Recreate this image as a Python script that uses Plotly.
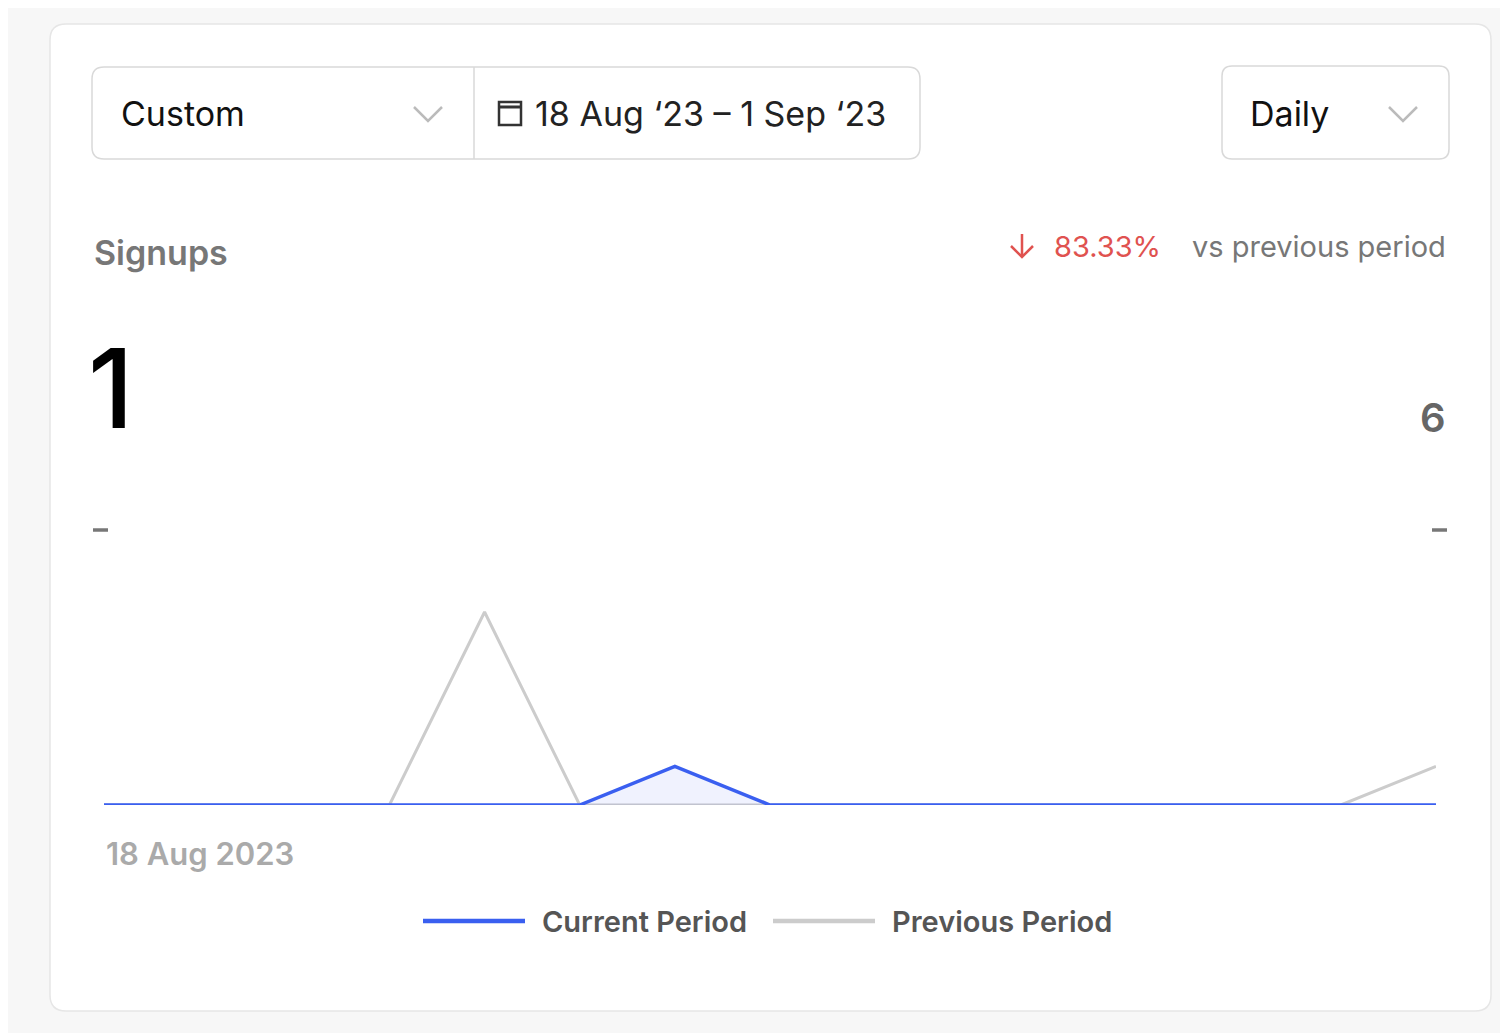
import plotly.graph_objects as go
import pandas as pd

days = pd.date_range("2023-08-18", "2023-09-01", freq="D")
current = [0, 0, 0, 0, 0, 0, 1, 0, 0, 0, 0, 0, 0, 0, 0]
previous = [0, 0, 0, 0, 5, 0, 0, 0, 0, 0, 0, 0, 0, 0, 1]
total_current = sum(current)
total_previous = sum(previous)
change = (total_current - total_previous) / total_previous * 100

# the page body adds an 8px margin, so the figure is drawn 8px smaller and shifted
OFF = 8
W, H = 1508 - OFF, 1033 - OFF
FONT = "Inter, Noto Sans, sans-serif"
BLUE = "#3a5ff0"
GREY = "#cccccc"


def px(x):
    return (x - OFF) / W


def py(y):
    return 1 - (y - OFF) / H


def rounded(x0, y0, x1, y1, r):
    return (f"M{px(x0+r)},{py(y0)} L{px(x1-r)},{py(y0)} Q{px(x1)},{py(y0)} {px(x1)},{py(y0+r)} "
            f"L{px(x1)},{py(y1-r)} Q{px(x1)},{py(y1)} {px(x1-r)},{py(y1)} L{px(x0+r)},{py(y1)} "
            f"Q{px(x0)},{py(y1)} {px(x0)},{py(y1-r)} L{px(x0)},{py(y0+r)} Q{px(x0)},{py(y0)} {px(x0+r)},{py(y0)} Z")


fig = go.Figure()
fig.add_trace(go.Scatter(x=days, y=previous, mode="lines", line=dict(color=GREY, width=3),
                         name="Previous Period"))
fig.add_trace(go.Scatter(x=days, y=current, mode="lines", line=dict(color=BLUE, width=3.5),
                         fill="tozeroy", fillcolor="rgba(58,95,240,0.08)", name="Current Period"))

shapes = [
    dict(type="path", path=rounded(50, 24, 1491, 1011, 16), xref="paper", yref="paper",
         fillcolor="white", line=dict(color="#e6e6e6", width=1.5), layer="below"),
    dict(type="path", path=rounded(92, 67, 920, 159, 12), xref="paper", yref="paper",
         fillcolor="white", line=dict(color="#d9d9d9", width=1.5), layer="below"),
    dict(type="line", x0=px(474), x1=px(474), y0=py(67), y1=py(159), xref="paper", yref="paper",
         line=dict(color="#d9d9d9", width=1.5)),
    dict(type="path", path=rounded(1222, 66, 1449, 159, 10), xref="paper", yref="paper",
         fillcolor="white", line=dict(color="#d9d9d9", width=1.5), layer="below"),
    # chevrons
    dict(type="path", path=f"M{px(414)},{py(107)} L{px(428)},{py(121)} L{px(442)},{py(107)}",
         xref="paper", yref="paper", line=dict(color="#bbbbbb", width=2.5)),
    dict(type="path", path=f"M{px(1389)},{py(107)} L{px(1403)},{py(121)} L{px(1417)},{py(107)}",
         xref="paper", yref="paper", line=dict(color="#bbbbbb", width=2.5)),
    # calendar icon
    dict(type="rect", x0=px(499), x1=px(521), y0=py(102), y1=py(125), xref="paper", yref="paper",
         line=dict(color="#333", width=2.5)),
    dict(type="line", x0=px(499), x1=px(521), y0=py(107), y1=py(107), xref="paper", yref="paper",
         line=dict(color="#333", width=3)),
    # dashes
    dict(type="line", x0=px(93), x1=px(108), y0=py(530), y1=py(530), xref="paper", yref="paper",
         line=dict(color="#777", width=3.5)),
    dict(type="line", x0=px(1432), x1=px(1447), y0=py(530), y1=py(530), xref="paper", yref="paper",
         line=dict(color="#777", width=3.5)),
    # legend lines
    dict(type="line", x0=px(423), x1=px(525), y0=py(921), y1=py(921), xref="paper", yref="paper",
         line=dict(color=BLUE, width=4.5)),
    dict(type="line", x0=px(773), x1=px(875), y0=py(921), y1=py(921), xref="paper", yref="paper",
         line=dict(color=GREY, width=4.5)),
    # down arrow
    dict(type="path", path=f"M{px(1022)},{py(234)} L{px(1022)},{py(257)} M{px(1011)},{py(246)} L{px(1022)},{py(257)} L{px(1033)},{py(246)}",
         xref="paper", yref="paper", line=dict(color="#e0524f", width=2.5)),
]


def text(x, y, s, size, color, anchor="left", weight=400):
    return dict(x=px(x), y=py(y), xref="paper", yref="paper", text=s, showarrow=False,
                xanchor=anchor, yanchor="middle", font=dict(family=FONT, size=size, color=color, weight=weight))


annotations = [
    text(119, 114, "Custom", 34, "#111"),
    text(533, 114, "18 Aug ‘23 – 1 Sep ‘23", 34, "#222"),
    text(1248, 114, "Daily", 34, "#111"),
    text(92, 252, "Signups", 34, "#777", weight=600),
    text(1052, 247, f"{abs(change):.2f}%", 29, "#e0524f"),
    text(1448, 247, "vs previous period", 29, "#777", anchor="right"),
    text(86, 388, str(total_current), 110, "#000", weight=500),
    text(1448, 417, str(total_previous), 40, "#666", anchor="right", weight=600),
    text(104, 853, days[0].strftime("%-d %b %Y"), 31, "#aaa", weight=600),
    text(540, 921, "Current Period", 29, "#555", weight=600),
    text(890, 921, "Previous Period", 29, "#555", weight=600),
]

fig.update_layout(
    width=W, height=H, margin=dict(l=0, r=0, t=0, b=0),
    paper_bgcolor="#f7f7f7", plot_bgcolor="rgba(0,0,0,0)", showlegend=False,
    shapes=shapes, annotations=annotations,
    xaxis=dict(domain=[px(104), px(1436)], range=[days[0], days[-1]], visible=False),
    yaxis=dict(domain=[py(805), py(573.4)], range=[0, 6], visible=False),
)
fig.write_html("out.html")
